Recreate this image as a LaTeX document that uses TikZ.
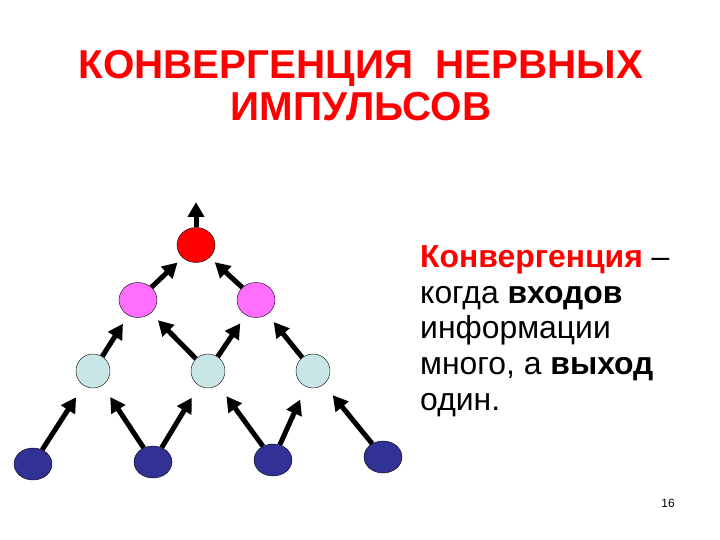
\documentclass[tikz,border=0pt]{standalone}
\usepackage{fontspec}
\setmainfont{Liberation Sans}
\usetikzlibrary{shapes.geometric,arrows.meta}

\definecolor{pinkn}{RGB}{255,110,255}
\definecolor{cyann}{RGB}{200,230,230}
\definecolor{bluen}{RGB}{50,50,150}

\begin{document}
\begin{tikzpicture}[x=1bp,y=-1bp,
    neuron/.style={draw=black,thin,ellipse,inner sep=0pt,minimum width=38bp,minimum height=35bp},
    outn/.style={neuron,fill=red},
    midn/.style={neuron,fill=pinkn},
    lown/.style={neuron,fill=cyann,minimum width=34bp,minimum height=34bp},
    inn/.style={neuron,fill=bluen,minimum height=32bp},
    signal/.style={line width=5bp,-{Triangle[length=15bp,width=16bp]},shorten >=14bp}]
        \useasboundingbox (0,0) rectangle (720,540);

        % title
        \node[anchor=north,align=center,text=red,inner sep=0pt,
              font=\bfseries\fontsize{40.5}{42}\selectfont] (title) at (361,50)
              {КОНВЕРГЕНЦИЯ~~НЕРВНЫХ\\ИМПУЛЬСОВ};

        % neurons
        \node[outn] (top) at (196,245) {};
        \node[midn] (m1) at (138,300) {};
        \node[midn] (m2) at (256,300) {};
        \node[lown] (l1) at (93,371) {};
        \node[lown] (l2) at (208,371) {};
        \node[lown] (l3) at (313,371) {};
        \node[inn] (i1) at (33,464) {};
        \node[inn] (i2) at (153,462) {};
        \node[inn] (i3) at (273,460) {};
        \node[inn] (i4) at (383,457) {};
        \coordinate (exit) at (196,202);

        % connections
        \draw[signal,shorten >=0pt] (top) -- (exit);
        \draw[signal,shorten >=7bp] (m1) -- (top);
        \draw[signal,shorten >=7bp] (m2) -- (top);
        \draw[signal,shorten >=10bp] (l1) -- (m1);
        \draw[signal,shorten >=10bp] (l2) -- (m1);
        \draw[signal,shorten >=10bp] (l2) -- (m2);
        \draw[signal,shorten >=10bp] (l3) -- (m2);
        \draw[signal] (i1) -- (l1);
        \draw[signal] (i2) -- (l1);
        \draw[signal] (i2) -- (l2);
        \draw[signal] (i3) -- (l2);
        \draw[signal] (i3) -- (l3);
        \draw[signal] (i4) -- (l3);

        % definition
        \node[anchor=north west,align=left,inner sep=0pt,
              font=\fontsize{32}{36}\selectfont] (def) at (420,245)
              {\textbf{\textcolor{red}{Конвергенция}} –\\когда \textbf{входов}\\информации\\много, а \textbf{выход}\\один.};

        \node[font=\fontsize{12}{14}\selectfont] (page) at (668,503) {16};
\end{tikzpicture}
\end{document}
